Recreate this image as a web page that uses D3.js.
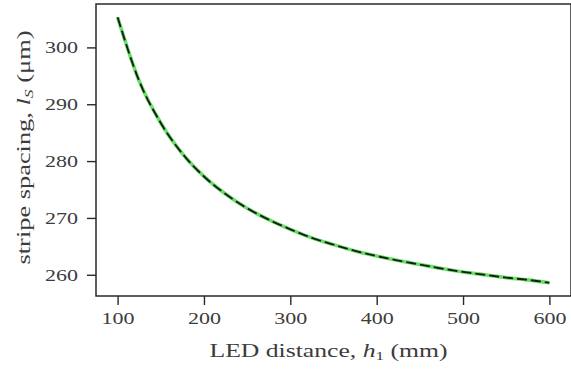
<!DOCTYPE html>
<html><head><meta charset="utf-8">
<script src="https://cdn.jsdelivr.net/npm/d3@7"></script>
<style>body{margin:0;background:#fff}svg{display:block}</style>
</head><body><svg id="c" width="571" height="374"></svg>
<script>
const distances = [100,125,150,175,200,225,250,275,300,325,350,375,400,425,450,475,500,525,550,575,600];
const spacing = [305.3,294.1,286.7,281.3,277.3,274.2,271.7,269.7,268.0,266.5,265.3,264.2,263.3,262.5,261.8,261.1,260.5,260.0,259.5,259.1,258.6];
const xTicks = [100,200,300,400,500,600];
const yTicks = [260,270,280,290,300];
const xLabel = "LED distance, ";
const yLabel = "stripe spacing, ";

const svg = d3.select("#c");
const L=96,R=571,T=4,B=296;
const xmin=d3.min(distances), xmax=d3.max(distances), xs=xmax-xmin;
const ymin=d3.min(spacing), ymax=d3.max(spacing), ys=ymax-ymin;
const x = d3.scaleLinear().domain([xmin-0.05*xs, xmax+0.05*xs]).range([L,R]);
const y = d3.scaleLinear().domain([ymin-0.05*ys, ymax+0.05*ys]).range([B,T]);
const font = "'Liberation Serif', serif";
const ink = "#2a2a2a";
const textInk = "#3c3c3c";

const pts = distances.map((d,i)=>[d,spacing[i]]);
const line = d3.line().x(d=>x(d[0])).y(d=>y(d[1])).curve(d3.curveMonotoneX);
svg.append("path").attr("d",line(pts)).attr("fill","none").attr("stroke","#66e066").attr("stroke-width",3.6);
svg.append("path").attr("d",line(pts)).attr("fill","none").attr("stroke","#1a1a1a").attr("stroke-width",1.9).attr("stroke-dasharray","10,4");

const gx = svg.append("g").attr("transform",`translate(0,${B})`).call(d3.axisBottom(x).tickValues(xTicks).tickSize(9).tickPadding(7));
const gy = svg.append("g").attr("transform",`translate(${L},0)`).call(d3.axisLeft(y).tickValues(yTicks).tickSize(9).tickPadding(9));
[gx,gy].forEach(g=>{
  g.select(".domain").remove();
  g.selectAll(".tick line").attr("stroke",ink).attr("stroke-width",1.4);
  g.selectAll(".tick text").attr("font-family",font).attr("font-size",17).attr("fill",textInk)
   .attr("textLength",33).attr("lengthAdjust","spacingAndGlyphs");
});
svg.append("rect").attr("x",L).attr("y",T).attr("width",R-L).attr("height",B-T)
  .attr("fill","none").attr("stroke",ink).attr("stroke-width",1.5);

const xl = svg.append("text").attr("x",(L+R)/2-5).attr("y",357).attr("text-anchor","middle")
  .attr("font-family",font).attr("font-size",18).attr("fill",textInk)
  .attr("textLength",238).attr("lengthAdjust","spacingAndGlyphs");
xl.append("tspan").text(xLabel);
xl.append("tspan").attr("font-style","italic").text("h");
xl.append("tspan").attr("font-size",12).attr("dy",3).text("1");
xl.append("tspan").attr("dy",-3).text(" (mm)");

const yl = svg.append("text").attr("transform",`translate(30,${(30+265)/2}) rotate(-90)`).attr("text-anchor","middle")
  .attr("font-family",font).attr("font-size",18).attr("fill",textInk)
  .attr("textLength",234).attr("lengthAdjust","spacingAndGlyphs");
yl.append("tspan").text(yLabel);
yl.append("tspan").attr("font-style","italic").text("l");
yl.append("tspan").attr("font-size",12).attr("font-style","italic").attr("dy",3).text("S");
yl.append("tspan").attr("dy",-3).text(" (μm)");
</script></body></html>
